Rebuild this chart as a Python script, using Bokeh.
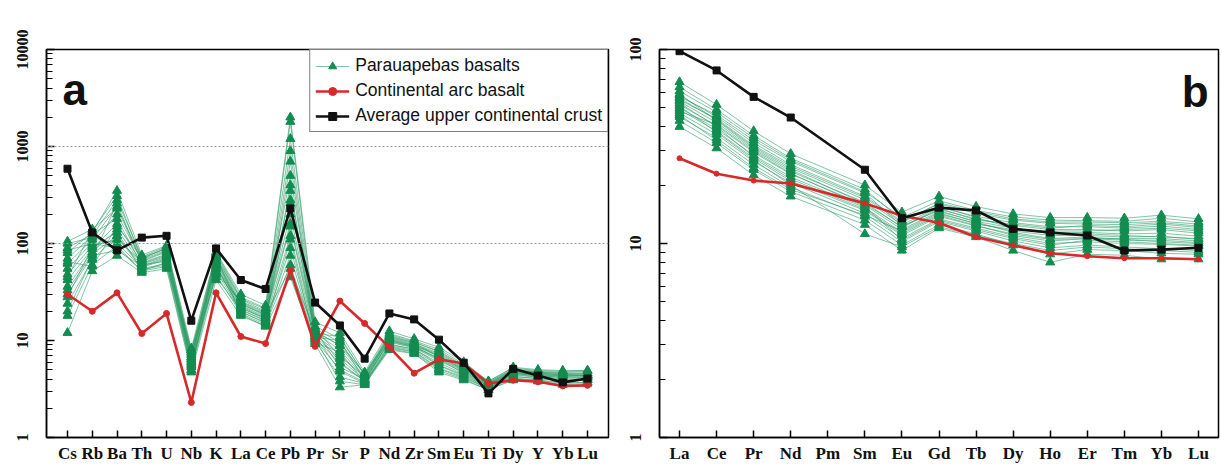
from bokeh.plotting import figure
from bokeh.layouts import row
from bokeh.models import FixedTicker, Span, Label, Legend, LegendItem, Range1d, PrintfTickFormatter
from bokeh.embed import file_html
from bokeh.resources import INLINE

# ---------------- data ----------------
spider_elements = ["Cs", "Rb", "Ba", "Th", "U", "Nb", "K", "La", "Ce", "Pb", "Pr",
                   "Sr", "P", "Nd", "Zr", "Sm", "Eu", "Ti", "Dy", "Y", "Yb", "Lu"]
ree_elements = ["La", "Ce", "Pr", "Nd", "Pm", "Sm", "Eu", "Gd", "Tb", "Dy", "Ho",
                "Er", "Tm", "Yb", "Lu"]
ree_measured = ["La", "Ce", "Pr", "Nd", "Sm", "Eu", "Gd", "Tb", "Dy", "Ho",
                "Er", "Tm", "Yb", "Lu"]

# primitive-mantle normalised (panel a)
ucc_pm = [590, 130, 85, 115, 120, 16, 89, 42, 34, 230, 24.6, 14.3, 6.5, 19, 16.5,
          10.2, 5.9, 2.85, 5.1, 4.35, 3.7, 4.05]
arc_pm = [30, 20, 31, 11.8, 19, 2.3, 31, 11, 9.3, 53, 8.7, 25.5, 15, 8.5, 4.6,
          6.4, 5.8, 3.6, 3.9, 3.75, 3.4, 3.45]
basalt_pm = [
    [12, 52, 75, 50, 55, 4.7, 42, 18, 14, 45, 9.2, 3.3, 3.5, 8.0, 7.3, 4.7, 3.9, 3.1, 3.9, 3.8, 3.5, 3.6],
    [18, 60, 95, 52, 58, 5.0, 48, 19, 14.5, 60, 9.8, 4.2, 3.6, 8.4, 7.6, 5.1, 4.1, 3.2, 4.1, 3.9, 3.7, 3.7],
    [24, 68, 120, 55, 62, 5.3, 52, 20, 15, 75, 10.2, 5.0, 3.7, 8.8, 7.9, 5.5, 4.3, 3.3, 4.3, 4.0, 3.9, 3.9],
    [30, 75, 85, 58, 70, 5.6, 58, 21, 16, 90, 10.6, 5.8, 3.8, 9.2, 8.1, 5.9, 4.5, 3.4, 4.4, 4.2, 4.0, 4.0],
    [36, 82, 140, 61, 74, 5.9, 62, 22, 16.5, 120, 11.0, 6.5, 3.9, 9.6, 8.4, 6.2, 4.7, 3.5, 4.6, 4.3, 4.2, 4.2],
    [42, 88, 160, 63, 78, 6.2, 66, 23, 17.5, 150, 11.5, 7.2, 4.0, 10.0, 8.6, 6.6, 4.9, 3.5, 4.7, 4.4, 4.3, 4.3],
    [48, 95, 110, 65, 82, 6.5, 70, 24, 18, 200, 12.0, 8.0, 4.1, 10.4, 8.9, 7.0, 5.1, 3.6, 4.9, 4.6, 4.5, 4.5],
    [55, 102, 200, 68, 86, 6.8, 74, 25, 19, 260, 12.6, 8.8, 4.2, 10.8, 9.2, 7.4, 5.3, 3.6, 5.0, 4.7, 4.6, 4.6],
    [62, 110, 240, 70, 90, 7.1, 78, 26.5, 20, 350, 13.2, 9.6, 4.4, 11.2, 9.5, 7.8, 5.5, 3.7, 5.1, 4.8, 4.7, 4.8],
    [70, 120, 280, 73, 93, 7.6, 80, 28, 21.5, 500, 14.0, 10.5, 4.5, 11.8, 9.9, 8.1, 5.7, 3.8, 5.2, 4.9, 4.8, 4.9],
    [80, 130, 350, 76, 95, 8.3, 82, 30, 23, 2000, 15.5, 12, 4.7, 12.5, 10.4, 8.5, 6.0, 3.8, 5.3, 5.0, 4.9, 4.9],
    [90, 125, 180, 60, 66, 5.4, 55, 21.5, 17, 900, 11.2, 4.8, 3.6, 9.0, 8.2, 5.6, 4.4, 3.3, 4.2, 4.1, 3.9, 3.9],
    [100, 115, 100, 57, 68, 7.9, 60, 19.5, 15.5, 700, 10.4, 3.8, 3.5, 8.6, 7.7, 5.2, 4.2, 3.2, 4.5, 4.2, 4.1, 4.1],
    [105, 140, 230, 66, 84, 6.0, 72, 27, 21, 1800, 13.5, 6.8, 4.3, 11.5, 9.7, 7.6, 5.4, 3.7, 5.0, 4.7, 4.6, 4.6],
    [28, 92, 130, 54, 60, 7.3, 45, 20.5, 16, 400, 10.8, 10, 3.9, 9.8, 8.5, 6.4, 4.6, 3.4, 4.6, 4.4, 4.4, 4.4],
    [20, 70, 260, 62, 76, 4.9, 68, 23.5, 18.5, 55, 12.2, 9, 4.6, 10.6, 9.0, 7.2, 5.2, 3.5, 4.8, 4.5, 4.5, 4.3],
    [65, 58, 150, 72, 88, 5.7, 50, 25.5, 19.5, 1200, 12.8, 5.3, 4.0, 11.0, 9.4, 6.8, 5.0, 3.6, 4.8, 4.6, 4.4, 4.4],
    [85, 100, 90, 52, 64, 6.4, 76, 18.5, 14, 110, 9.5, 7.6, 3.7, 8.2, 7.4, 4.9, 4.0, 3.1, 4.0, 3.9, 3.6, 3.7],
    [45, 135, 310, 69, 91, 6.7, 64, 22.5, 17, 280, 11.8, 11, 4.4, 10.2, 8.8, 6.9, 5.0, 3.5, 4.7, 4.5, 4.3, 4.4],
    [33, 78, 120, 59, 72, 8.0, 56, 24.5, 18.5, 160, 12.4, 6.0, 3.8, 10.0, 8.7, 6.5, 4.8, 3.4, 4.6, 4.3, 4.2, 4.2],
]

# chondrite normalised REE (panel b), Pm not measured
ucc_ree = [98, 78, 57, 44.6, 24, 13.5, 15.3, 14.8, 11.9, 11.4, 11.0, 9.2, 9.3, 9.5]
arc_ree = [27.5, 22.9, 21.1, 20.4, 16.1, 13.9, 12.8, 10.8, 9.8, 8.9, 8.6, 8.4, 8.4, 8.3]
basalt_ree = [
    [40, 31, 22.5, 17.5, 12.5, 9.2, 12, 10.8, 9.2, 8.0, 8.8, 8.7, 8.3, 8.3],
    [43, 33, 24, 18.5, 13.2, 9.8, 12.5, 11.2, 9.8, 8.8, 9.3, 9.2, 8.9, 8.8],
    [45, 35, 25.5, 19.5, 13.8, 10.2, 13, 11.6, 10.3, 9.5, 9.8, 9.6, 9.4, 9.2],
    [47, 36.5, 26.5, 20.5, 14.3, 10.6, 13.4, 12, 10.8, 10.0, 10.2, 10.0, 9.9, 9.7],
    [49, 38, 27.5, 21, 14.8, 11, 13.8, 12.3, 11.2, 10.5, 10.6, 10.4, 10.4, 10.1],
    [50, 39, 28.5, 22, 15.3, 11.4, 14.2, 12.7, 11.6, 11.0, 11.0, 10.8, 10.9, 10.5],
    [52, 40.5, 29.5, 22.8, 15.8, 11.8, 14.6, 13, 12, 11.4, 11.4, 11.2, 11.3, 10.9],
    [54, 42, 30.5, 23.5, 16.3, 12.1, 15, 13.4, 12.4, 11.8, 11.8, 11.6, 11.8, 11.3],
    [56, 43.5, 31.5, 24.5, 16.8, 12.5, 15.4, 13.8, 12.8, 12.2, 12.2, 12.0, 12.3, 11.8],
    [58, 45, 33, 25.5, 17.5, 13, 16, 14.3, 13.2, 12.7, 12.6, 12.5, 12.8, 12.3],
    [61, 47.5, 35, 27, 18.5, 13.6, 16.6, 14.8, 13.7, 13.2, 13.1, 13.0, 13.5, 12.9],
    [68, 52, 38, 29, 20, 14.5, 17.5, 15.5, 14.2, 13.6, 13.6, 13.5, 14, 13.4],
    [64, 49, 36, 27.5, 19, 13.2, 15.6, 13.6, 12.0, 11.2, 11.2, 11.0, 10.8, 10.6],
    [57, 46, 34, 26.5, 18.2, 12.3, 14.8, 12.9, 11.4, 10.6, 10.8, 10.5, 10.2, 10.0],
    [55, 44, 32, 25, 17.2, 12.8, 16.2, 14.6, 13.4, 12.9, 12.9, 12.8, 13.0, 12.6],
    [51, 37.5, 27, 20, 11.2, 9.6, 12.2, 11, 10.0, 9.2, 9.6, 9.4, 9.2, 9.0],
    [48, 41, 30, 23, 15.5, 10.4, 13.2, 11.8, 10.6, 9.8, 10.4, 10.2, 10.0, 9.8],
    [46, 34, 24.5, 19, 14, 11.6, 14.4, 12.6, 11.8, 11.6, 11.6, 11.8, 12, 11.6],
    [59, 43, 31, 24, 16, 12.2, 15.2, 13.2, 12.6, 12.0, 12.4, 12.2, 12.6, 12.1],
    [53, 40, 28, 21.5, 15, 11.2, 14, 12.4, 11, 10.3, 10.6, 10.6, 10.6, 10.3],
]

legend_labels = ["Parauapebas basalts", "Continental arc basalt",
                 "Average upper continental crust"]

# ---------------- style ----------------
GREEN_LINE = "#2f9e68"
GREEN_MARK = "#138c50"
RED = "#d7282a"
BLACK = "#111111"
TICK_FONT = "Liberation Serif"


def log_minors(lo_exp, hi_exp):
    out = []
    for e in range(lo_exp, hi_exp):
        for m in range(2, 10):
            out.append(m * 10 ** e)
    return out


def style(p, names, positions, lo_exp, hi_exp):
    p.xgrid.visible = False
    p.ygrid.visible = False
    p.outline_line_color = "black"
    p.outline_line_width = 1.5
    p.background_fill_color = "white"
    p.border_fill_color = "white"

    xa = p.xaxis[0]
    xa.ticker = FixedTicker(ticks=positions)
    xa.major_label_overrides = {pos: n for pos, n in zip(positions, names)}
    xa.major_tick_in = 7
    xa.major_tick_out = 0
    xa.minor_tick_in = 0
    xa.minor_tick_out = 0
    xa.axis_line_width = 1.5
    xa.major_tick_line_width = 1.5
    xa.major_label_text_font = TICK_FONT
    xa.major_label_text_font_style = "bold"
    xa.major_label_text_font_size = "17px"
    xa.major_label_text_color = "#111111"
    xa.major_label_standoff = 6

    ya = p.yaxis[0]
    ya.ticker = FixedTicker(ticks=[10 ** e for e in range(lo_exp, hi_exp + 1)],
                            minor_ticks=log_minors(lo_exp, hi_exp))
    ya.formatter = PrintfTickFormatter(format="%d")
    ya.major_tick_in = 8
    ya.major_tick_out = 0
    ya.minor_tick_in = 6
    ya.minor_tick_out = 0
    ya.axis_line_width = 1.5
    ya.major_tick_line_width = 1.5
    ya.minor_tick_line_width = 1.2
    ya.major_label_orientation = "vertical"
    ya.major_label_text_font = TICK_FONT
    ya.major_label_text_font_style = "bold"
    ya.major_label_text_font_size = "16px"
    ya.major_label_text_color = "#111111"
    ya.major_label_standoff = 19


# ---------------- panel a ----------------
xa_pos = list(range(len(spider_elements)))
p1 = figure(width=612, height=466, y_axis_type="log",
            x_range=Range1d(-0.848, 21.848), y_range=Range1d(1, 10000),
            output_backend="svg", toolbar_location=None,
            min_border_left=46, min_border_right=4, min_border_top=49,
            min_border_bottom=28)
style(p1, spider_elements, xa_pos, 0, 4)

for lvl in [100, 1000]:
    p1.add_layout(Span(location=lvl, dimension="width", line_color="#9a9a9a",
                       line_dash="2 2", line_width=1))

g_lines = p1.multi_line(xs=[xa_pos] * len(basalt_pm), ys=basalt_pm,
                        line_color=GREEN_LINE, line_alpha=0.75, line_width=0.8)
g_x = [x for _ in basalt_pm for x in xa_pos]
g_y = [v for rowv in basalt_pm for v in rowv]
g_pts = p1.scatter(g_x, g_y, marker="triangle", size=9, fill_color=GREEN_MARK,
                   line_color=GREEN_MARK)
r_line = p1.line(xa_pos, arc_pm, line_color=RED, line_width=2.6)
r_pts = p1.scatter(xa_pos, arc_pm, marker="circle", size=6, fill_color=RED,
                   line_color=RED)
k_line = p1.line(xa_pos, ucc_pm, line_color=BLACK, line_width=2.6)
k_pts = p1.scatter(xa_pos, ucc_pm, marker="square", size=7, fill_color=BLACK,
                   line_color=BLACK)

legend = Legend(items=[
    LegendItem(label=legend_labels[0], renderers=[g_lines, g_pts]),
    LegendItem(label=legend_labels[1], renderers=[r_line, r_pts]),
    LegendItem(label=legend_labels[2], renderers=[k_line, k_pts]),
], location="top_right")
legend.margin = 0
legend.padding = 5
legend.spacing = 4
legend.glyph_width = 34
legend.glyph_height = 20
legend.label_height = 20
legend.label_standoff = 6
legend.label_text_font = "Liberation Sans"
legend.label_text_font_size = "17.5px"
legend.label_text_color = "#111111"
legend.border_line_color = "black"
legend.border_line_width = 1.5
legend.background_fill_alpha = 1.0
p1.add_layout(legend)

p1.add_layout(Label(x=-0.2, y=3900, text="a", text_font="Liberation Sans",
                    text_font_style="bold", text_font_size="44px",
                    text_color="#111111", text_baseline="alphabetic"))

# ---------------- panel b ----------------
xb_all = list(range(len(ree_elements)))
xb_pos = [ree_elements.index(e) for e in ree_measured]
p2 = figure(width=610, height=466, y_axis_type="log",
            x_range=Range1d(-0.54, 14.54), y_range=Range1d(1, 100),
            output_backend="svg", toolbar_location=None,
            min_border_left=47, min_border_right=4, min_border_top=49,
            min_border_bottom=29)
style(p2, ree_elements, xb_all, 0, 2)

p2.multi_line(xs=[xb_pos] * len(basalt_ree), ys=basalt_ree,
              line_color=GREEN_LINE, line_alpha=0.75, line_width=0.8)
gb_x = [x for _ in basalt_ree for x in xb_pos]
gb_y = [v for rowv in basalt_ree for v in rowv]
p2.scatter(gb_x, gb_y, marker="triangle", size=9, fill_color=GREEN_MARK,
           line_color=GREEN_MARK)
p2.line(xb_pos, arc_ree, line_color=RED, line_width=2.6)
p2.scatter(xb_pos, arc_ree, marker="circle", size=5, fill_color=RED, line_color=RED)
p2.line(xb_pos, ucc_ree, line_color=BLACK, line_width=2.6)
p2.scatter(xb_pos, ucc_ree, marker="square", size=7, fill_color=BLACK,
           line_color=BLACK)

p2.add_layout(Label(x=13.55, y=61, text="b", text_font="Liberation Sans",
                    text_font_style="bold", text_font_size="44px",
                    text_color="#111111", text_baseline="alphabetic"))

layout = row(p1, p2, spacing=0)
open("out.html", "w").write(file_html(layout, INLINE))
